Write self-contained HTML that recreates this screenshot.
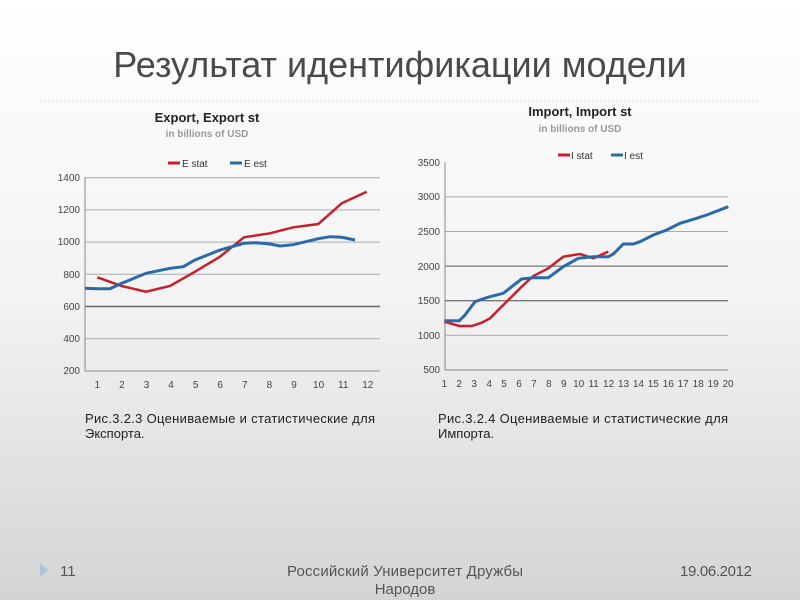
<!DOCTYPE html>
<html><head><meta charset="utf-8"><style>
body{margin:0;width:800px;height:600px;overflow:hidden;background:linear-gradient(#fff 0%,#f3f3f3 50%,#d4d4d4 100%);font-family:"Liberation Sans",sans-serif;}
</style></head><body>
<svg width="800" height="600" style="position:absolute;left:0;top:0" font-family="Liberation Sans, sans-serif">
<text x="400" y="77" text-anchor="middle" font-size="36" fill="#4a4a4a">Результат идентификации модели</text>
<line x1="40" y1="101" x2="760" y2="101" stroke="#c8d2dc" stroke-dasharray="2,2"/>
<text x="207" y="122" text-anchor="middle" font-size="13" font-weight="bold" fill="#222">Export, Export st</text>
<text x="207" y="137" text-anchor="middle" font-size="10" font-weight="bold" fill="#999">in billions of USD</text>
<line x1="168" y1="163" x2="180" y2="163" stroke="#c8202a" stroke-width="3"/><text x="182" y="167" font-size="10" fill="#333">E stat</text>
<line x1="230" y1="163" x2="242" y2="163" stroke="#2a6aa8" stroke-width="3"/><text x="244" y="167" font-size="10" fill="#333">E est</text>
<g stroke="#aaa" stroke-width="1">
<line x1="85" y1="177.7" x2="380" y2="177.7"/><line x1="85" y1="209.9" x2="380" y2="209.9"/><line x1="85" y1="242.1" x2="380" y2="242.1"/><line x1="85" y1="274.3" x2="380" y2="274.3"/><line x1="85" y1="338.7" x2="380" y2="338.7"/>
</g>
<line x1="85" y1="306.5" x2="380" y2="306.5" stroke="#666" stroke-width="1.5"/>
<line x1="85" y1="371" x2="380" y2="371" stroke="#888"/><line x1="85" y1="177" x2="85" y2="371" stroke="#888"/>
<g font-size="10" fill="#444" text-anchor="end">
<text x="80" y="181">1400</text><text x="80" y="213">1200</text><text x="80" y="245">1000</text><text x="80" y="278">800</text><text x="80" y="310">600</text><text x="80" y="342">400</text><text x="80" y="374">200</text></g>
<g font-size="10" fill="#444" text-anchor="middle">
<text x="97.3" y="388">1</text><text x="121.9" y="388">2</text><text x="146.5" y="388">3</text><text x="171" y="388">4</text><text x="195.6" y="388">5</text><text x="220.2" y="388">6</text><text x="244.8" y="388">7</text><text x="269.4" y="388">8</text><text x="294" y="388">9</text><text x="318.6" y="388">10</text><text x="343.2" y="388">11</text><text x="367.8" y="388">12</text></g>
<polyline fill="none" stroke="#c8202a" stroke-width="2.5" points="97.3,277.3 121.7,286 146,291.7 170,286 195,271.7 220,256.7 244,237.3 270,233.3 293.3,227.3 318.3,224 341.7,203.3 366.7,191.7"/>
<polyline fill="none" stroke="#2a6aa8" stroke-width="3" points="85,288.3 97.3,288.7 110,288.7 121.7,283.3 146,273.3 170,268.3 183.3,266.7 195,260 220,250 244,243.3 256.7,242.7 270,244 280,246 293.3,244.7 318.3,238.7 330,236.7 341.7,237.3 355,240"/>
<text x="85" y="423" font-size="13" fill="#222" textLength="290">Рис.3.2.3 Оцениваемые  и статистические для</text>
<text x="85" y="438" font-size="13" fill="#222">Экспорта.</text>
<text x="580" y="116" text-anchor="middle" font-size="13" font-weight="bold" fill="#222">Import, Import st</text>
<text x="580" y="132" text-anchor="middle" font-size="10" font-weight="bold" fill="#999">in billions of USD</text>
<line x1="558" y1="155" x2="570" y2="155" stroke="#c8202a" stroke-width="3"/><text x="571" y="159" font-size="10" fill="#333">I stat</text>
<line x1="611" y1="155" x2="623" y2="155" stroke="#2a6aa8" stroke-width="3"/><text x="624" y="159" font-size="10" fill="#333">I est</text>
<g stroke="#aaa"><line x1="445" y1="196.9" x2="728" y2="196.9"/><line x1="445" y1="231.5" x2="728" y2="231.5"/><line x1="445" y1="335.3" x2="728" y2="335.3"/></g>
<g stroke="#777" stroke-width="1.3"><line x1="445" y1="266.1" x2="728" y2="266.1"/><line x1="445" y1="300.7" x2="728" y2="300.7"/></g>
<line x1="445" y1="370" x2="728" y2="370" stroke="#888"/><line x1="445" y1="162" x2="445" y2="370" stroke="#888"/>
<g font-size="10" fill="#444" text-anchor="end">
<text x="440" y="166">3500</text><text x="440" y="200">3000</text><text x="440" y="235">2500</text><text x="440" y="270">2000</text><text x="440" y="304">1500</text><text x="440" y="339">1000</text><text x="440" y="373">500</text></g>
<g font-size="10" fill="#444" text-anchor="middle">
<text x="444.3" y="387">1</text><text x="459.2" y="387">2</text><text x="474.2" y="387">3</text><text x="489.1" y="387">4</text><text x="504" y="387">5</text><text x="519" y="387">6</text><text x="533.9" y="387">7</text><text x="548.8" y="387">8</text><text x="563.8" y="387">9</text><text x="578.7" y="387">10</text><text x="593.6" y="387">11</text><text x="608.6" y="387">12</text><text x="623.5" y="387">13</text><text x="638.4" y="387">14</text><text x="653.3" y="387">15</text><text x="668.3" y="387">16</text><text x="683.2" y="387">17</text><text x="698.2" y="387">18</text><text x="713.1" y="387">19</text><text x="728" y="387">20</text></g>
<polyline fill="none" stroke="#c8202a" stroke-width="2.5" points="444.3,321.7 459.3,326 471.7,326 481.7,322.7 490,318.3 500,308.3 511.7,296.7 521.7,286.7 533.3,276 548.3,268.3 563.3,256.7 580,254 593.3,258.3 608.3,251.7"/>
<polyline fill="none" stroke="#2a6aa8" stroke-width="3" points="444.3,320.7 459.3,320.7 465,315 475,301.7 481.7,299.3 490,296.7 503.3,293.3 511.7,286.7 521.7,279 533.3,277.7 548.3,277.7 563.3,266.7 578.3,258.3 593.3,256.7 608.3,256.7 613.3,254 623.3,244 633.3,244 640,241.7 653.3,235 666.7,230 680,223.3 693.3,219.3 706.7,215 728.3,206.7"/>
<text x="438" y="423" font-size="13" fill="#222" textLength="290">Рис.3.2.4 Оцениваемые  и статистические для</text>
<text x="438" y="438" font-size="13" fill="#222">Импорта.</text>
<line x1="34" y1="556" x2="762" y2="556" stroke="#c8d2dc" stroke-dasharray="2,2"/>
<polygon points="40,563 40,577 48,570" fill="#a9c4dc"/>
<text x="60" y="576" font-size="15" fill="#555">11</text>
<text x="405" y="576" text-anchor="middle" font-size="15" fill="#555" textLength="236">Российский Университет Дружбы</text>
<text x="405" y="594" text-anchor="middle" font-size="15" fill="#555">Народов</text>
<text x="752" y="576" text-anchor="end" font-size="15" fill="#555" textLength="72">19.06.2012</text>
</svg>
</body></html>
